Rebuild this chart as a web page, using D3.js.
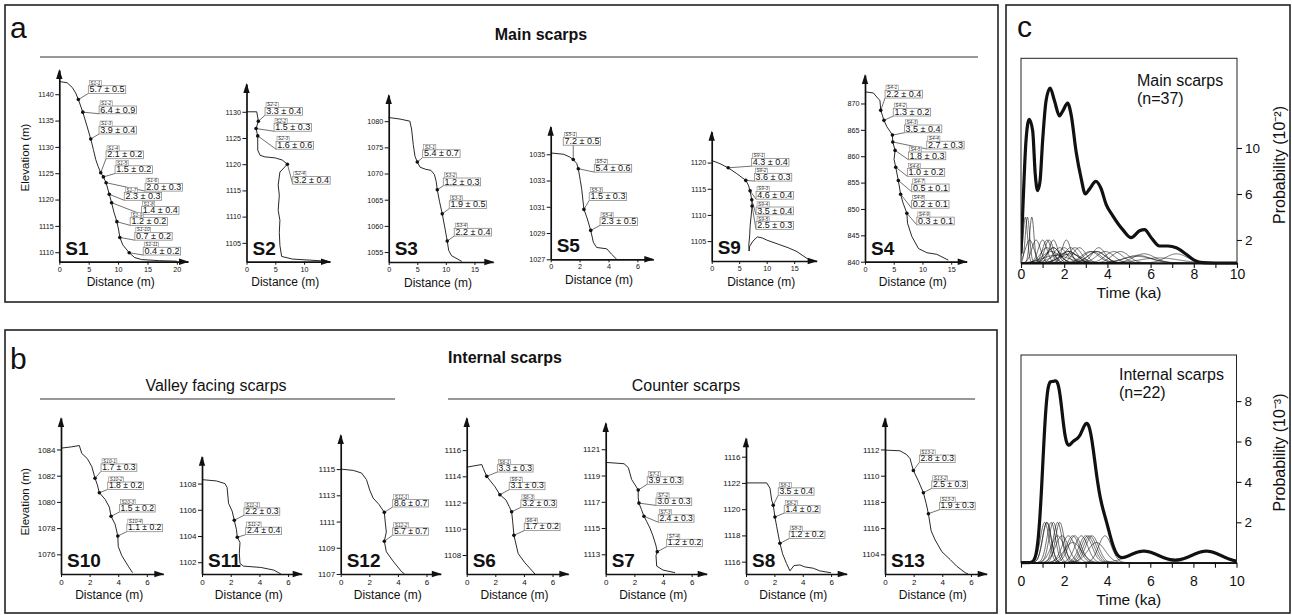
<!DOCTYPE html>
<html><head><meta charset="utf-8">
<script src="https://cdn.jsdelivr.net/npm/d3@7"></script>
<style>
body{margin:0;background:#fff;}
svg{display:block;font-family:Arial,"Liberation Sans",Helvetica,sans-serif;}
</style></head><body>
<svg id="fig" width="1292" height="615"></svg>
<script>
// ---------- profile data: [distance (m), elevation (m)] ----------
const s1Profile = [[0,1142.4],[1.3,1142.2],[2.2,1141.3],[2.8,1140.2],[3.24,1139.0],[4.0,1136.6],[4.7,1134.0],[5.35,1131.5],[5.8,1129.5],[6.2,1127.6],[6.6,1126.3],[7.05,1125.1],[7.5,1124.3],[7.96,1123.2],[8.5,1121.0],[8.9,1119.4],[9.3,1117.6],[9.8,1115.8],[10.1,1114.2],[10.3,1112.8],[10.8,1111.4],[11.9,1109.9],[12.8,1109.0],[14,1108.6],[17,1108.4],[20,1108.3]];
const s2Profile = [[0,1130],[1.78,1130],[2.06,1128.2],[1.66,1126.8],[1.95,1125.4],[1.95,1122.7],[2.35,1121.7],[3.2,1121.4],[5.0,1121.2],[6.2,1120.8],[7.1,1120.0],[6.5,1119.3],[5.8,1118.5],[5.5,1116.0],[5.7,1114.1],[5.5,1111.2],[5.8,1109.3],[5.7,1107.0],[5.8,1104.5],[6.1,1102.4],[8,1101.9],[11,1101.7],[14,1101.5]];
const s3Profile = [[0,1080.7],[2,1080.4],[3.7,1080.0],[4.0,1078.5],[4.3,1075.5],[4.6,1073.3],[5.0,1072.2],[5.5,1071.2],[6.5,1070.8],[7.4,1070.6],[8.0,1069.8],[8.3,1068.5],[8.5,1066.9],[8.9,1064.6],[9.37,1062.3],[9.8,1059.8],[10.24,1057.1],[10.5,1055.3],[11.0,1054.3],[12.0,1053.7],[12.8,1053.2]];
const s5Profile = [[0,1035.1],[0.9,1035.0],[1.3,1034.8],[1.56,1034.6],[1.8,1034.3],[1.91,1033.9],[2.05,1033.0],[2.15,1032.3],[2.3,1030.8],[2.5,1030.2],[2.77,1029.2],[2.95,1028.3],[3.18,1027.9],[3.88,1027.8],[4.2,1027.4],[4.57,1027.0]];
const s9Profile = [[0,1120.4],[1.5,1119.8],[3.0,1119.0],[4.55,1117.9],[6.2,1116.6],[6.67,1115.7],[6.98,1114.6],[7.29,1112.9],[7.34,1111.7],[7.2,1110.0],[7.0,1108.0],[6.9,1106.0],[6.75,1104.3],[6.8,1103.1],[6.9,1104.0],[7.5,1105.0],[8.3,1105.8],[9.2,1105.6],[10,1105.2],[12.4,1104.3],[14,1103.7],[15.5,1103.0],[17.6,1101.5]];
const s4Profile = [[0,872.2],[1.45,872.0],[2.3,870.9],[2.6,870.6],[2.74,868.7],[3.3,866.8],[3.8,865.6],[4.3,864.8],[4.77,864.0],[4.83,862.7],[5.24,861.1],[5.06,859.4],[5.35,857.9],[5.8,855.4],[6.2,852.8],[6.6,851.2],[7.28,849.2],[7.4,847.3],[8.15,844.8],[9.3,842.5],[10.77,841.7],[12.5,841.4],[13.4,840.9],[14.5,840.3]];
const s10Profile = [[0,1084.1],[0.75,1084.2],[1.28,1084.3],[1.45,1083.7],[1.84,1083.3],[2.15,1082.7],[2.38,1081.8],[2.54,1081.3],[2.68,1080.7],[3.08,1080.2],[3.38,1079.6],[3.5,1078.9],[3.78,1078.3],[3.97,1077.4],[4.0,1076.6],[4.25,1075.9],[4.7,1075.1],[5.0,1074.6]];
const s11Profile = [[0,1108.3],[1.0,1108.2],[1.6,1108.0],[1.75,1107.7],[1.85,1106.5],[2.1,1105.9],[2.25,1105.2],[2.4,1104.5],[2.46,1103.9],[2.65,1103.5],[2.6,1102.7],[2.65,1101.9],[2.9,1101.7],[4.1,1101.6],[5.0,1101.4],[5.5,1101.1]];
const s12Profile = [[0,1115],[0.88,1114.9],[1.46,1114.7],[1.8,1114.2],[2.03,1113.4],[2.26,1112.8],[2.68,1112.3],[3.05,1111.7],[3.12,1110.9],[3.19,1110.2],[3.05,1109.5],[3.19,1108.7],[3.65,1108.0],[4.24,1107.2],[4.47,1107.0]];
const s6Profile = [[0,1114.7],[1.05,1114.9],[1.16,1114.6],[1.4,1114.0],[1.98,1113.2],[2.32,1112.6],[2.74,1112.2],[2.97,1111.7],[3.14,1111.3],[3.21,1110.6],[3.3,1109.5],[3.49,1108.6],[3.6,1108.1],[4.07,1107.4],[4.65,1106.7],[4.77,1106.55]];
const s7Profile = [[0,1120.0],[1.28,1119.9],[1.58,1119.6],[1.81,1118.7],[2.1,1118.2],[2.27,1117.9],[2.27,1117.3],[2.32,1116.9],[2.5,1116.4],[2.67,1115.9],[2.86,1115.5],[3.09,1115.0],[3.3,1114.4],[3.5,1113.7],[3.6,1113.2],[3.51,1112.9],[3.56,1112.1],[4.0,1111.8],[4.84,1111.6]];
const s8Profile = [[0,1122],[1.46,1122],[1.69,1121.6],[1.81,1120.7],[1.92,1120.3],[1.99,1119.8],[2.04,1119.4],[2.16,1118.7],[2.39,1117.4],[2.58,1116.6],[2.86,1115.85],[3.1,1115.3],[3.38,1115.7],[3.8,1115.75],[4.15,1115.6],[4.74,1115.5],[5.2,1115.3],[6.0,1115.15]];
const s13Profile = [[0,1111.95],[1.05,1111.9],[1.52,1111.6],[1.75,1111.3],[1.85,1110.9],[1.98,1110.4],[2.33,1109.6],[2.68,1108.7],[2.87,1107.9],[3.03,1107.1],[3.22,1105.8],[3.5,1105.1],[3.97,1104.2],[4.55,1103.6],[5.0,1103.1],[5.6,1102.6],[5.8,1102.5]];

// ---------- sampled points: [distance (m), elevation (m), age (ka), 1-sigma error (ka)] ----------
const s1Samples = [[3.24,1139.0,5.7,0.5],[4.0,1136.6,6.4,0.9],[5.35,1131.5,3.9,0.4],[7.05,1125.1,2.1,0.2],[7.5,1124.3,1.5,0.2],[7.96,1123.2,2.0,0.3],[8.5,1121.0,2.3,0.3],[8.9,1119.4,1.4,0.4],[9.8,1115.8,1.2,0.2],[10.3,1112.8,0.7,0.2],[11.9,1109.9,0.4,0.2]];
const s2Samples = [[2.06,1128.2,3.3,0.4],[1.66,1126.8,1.5,0.3],[1.95,1125.4,1.6,0.6],[7.1,1120.0,3.2,0.4]];
const s3Samples = [[5.0,1072.2,5.4,0.7],[8.5,1066.9,1.2,0.3],[9.37,1062.3,1.9,0.5],[10.24,1057.1,2.2,0.4]];
const s5Samples = [[1.56,1034.6,7.2,0.5],[1.91,1033.9,5.4,0.6],[2.3,1030.8,1.5,0.3],[2.77,1029.2,2.3,0.5]];
const s9Samples = [[3.0,1119.0,4.3,0.4],[6.2,1116.6,3.6,0.3],[6.98,1114.6,4.6,0.4],[7.29,1112.9,3.5,0.4],[7.34,1111.7,2.5,0.3]];
const s4Samples = [[2.74,868.7,2.2,0.4],[3.3,866.8,1.3,0.2],[4.77,864.0,3.5,0.4],[4.83,862.7,2.7,0.3],[5.24,861.1,1.8,0.3],[5.35,857.9,1.0,0.2],[5.8,855.4,0.5,0.1],[6.2,852.8,0.2,0.1],[7.28,849.2,0.3,0.1]];
const s10Samples = [[2.38,1081.8,1.7,0.3],[2.68,1080.7,1.8,0.2],[3.5,1078.9,1.5,0.2],[3.97,1077.4,1.1,0.2]];
const s11Samples = [[2.25,1105.2,2.2,0.3],[2.46,1103.9,2.4,0.4]];
const s12Samples = [[3.05,1111.7,8.6,0.7],[3.05,1109.5,5.7,0.7]];
const s6Samples = [[1.4,1114.0,3.3,0.3],[2.32,1112.6,3.1,0.3],[3.14,1111.3,3.2,0.3],[3.3,1109.5,1.7,0.2]];
const s7Samples = [[2.27,1117.9,3.9,0.3],[2.32,1116.9,3.0,0.3],[2.67,1115.9,2.4,0.3],[3.6,1113.2,1.2,0.2]];
const s8Samples = [[1.92,1120.3,3.5,0.4],[2.04,1119.4,1.4,0.2],[2.39,1117.4,1.2,0.2]];
const s13Samples = [[1.98,1110.4,2.8,0.3],[2.68,1108.7,2.5,0.3],[3.03,1107.1,1.9,0.3]];

// ---------- axis ticks ----------
const s1XTicks = [0,5,10,15,20], s1YTicks = [1110,1115,1120,1125,1130,1135,1140];
const s2XTicks = [0,5,10], s2YTicks = [1105,1110,1115,1120,1125,1130];
const s3XTicks = [0,5,10,15], s3YTicks = [1055,1060,1065,1070,1075,1080];
const s5XTicks = [0,2,4,6], s5YTicks = [1027,1029,1031,1033,1035];
const s9XTicks = [0,5,10,15], s9YTicks = [1105,1110,1115,1120];
const s4XTicks = [0,5,10,15], s4YTicks = [840,845,850,855,860,865,870];
const smallXTicks = [0,2,4,6];
const s10YTicks = [1076,1078,1080,1082,1084];
const s11YTicks = [1102,1104,1106,1108];
const s12YTicks = [1107,1109,1111,1113,1115];
const s6YTicks = [1108,1110,1112,1114,1116];
const s7YTicks = [1113,1115,1117,1119,1121];
const s8YTicks = [1116,1118,1120,1122,1124];
const s8YTickLabels = ["1116","1118","1120","1122","1116"];
const s13YTicks = [1104,1106,1108,1110,1112];
const s13YTickLabels = ["1104","1116","1118","1110","1112"];

// ---------- summed probability, main scarps (ka, 10^-2) ----------
const mainSumTime = [0,0.1,0.23,0.38,0.54,0.66,0.77,0.88,1.0,1.16,1.35,1.55,1.78,1.93,2.16,2.32,2.55,2.78,2.98,3.16,3.47,3.7,3.94,4.25,4.71,5.1,5.49,5.72,6.03,6.41,6.8,7.19,7.65,8.04,8.42,9.0,10];
const mainSumProb = [0.8,5.4,10.6,12.5,11.5,7.7,6.3,7.1,10.6,14.1,15.2,14.1,12.8,13.2,13.9,12.9,9.7,7.4,6.0,6.4,7.1,6.5,5.1,4.1,2.9,2.2,2.8,2.9,2.2,1.48,1.48,1.33,0.76,0.23,0.03,0,0];
const probXTicks = [0,1,2,3,4,5,6,7,8,9,10];
const mainProbTicks = [2,6,10];
const internalProbTicks = [2,4,6,8];

// ---------- layout ----------
const LAYOUT = {
  S1:  {ox:59.3, oy:261.7, tipX:188,   tipY:70,    xEnd:21.9, yBase:1108.2, yTop:1144.6},
  S2:  {ox:246.5,oy:261.7, tipX:330,   tipY:84,    xEnd:14.5, yBase:1101.4, yTop:1135.3},
  S3:  {ox:388.7,oy:262,   tipX:493.3, tipY:95,    xEnd:18.3, yBase:1053.1, yTop:1085.0},
  S5:  {ox:550.7,oy:259.3, tipX:653.3, tipY:126.7, xEnd:7.1,  yBase:1027,   yTop:1037.1},
  S9:  {ox:711.7,oy:261,   tipX:816.7, tipY:131.7, xEnd:19.1, yBase:1101.2, yTop:1125.9},
  S4:  {ox:865,  oy:261.7, tipX:966.7, tipY:75,    xEnd:17.7, yBase:840,    yTop:875.4},
  S10: {ox:61,   oy:574,   tipX:163.3, tipY:418,   xEnd:7.15, yBase:1074.5, yTop:1086.4},
  S11: {ox:202,  oy:574,   tipX:301.7, tipY:456.7, xEnd:6.95, yBase:1101.1, yTop:1110.05},
  S12: {ox:340.7,oy:574,   tipX:440.8, tipY:435,   xEnd:7.0,  yBase:1107,   yTop:1117.6},
  S6:  {ox:466.7,oy:574,   tipX:568.3, tipY:418,   xEnd:7.1,  yBase:1106.55,yTop:1118.45},
  S7:  {ox:605.7,oy:574,   tipX:706.7, tipY:423,   xEnd:7.05, yBase:1111.5, yTop:1123.0},
  S8:  {ox:746,  oy:574,   tipX:846.7, tipY:438.3, xEnd:7.1,  yBase:1115.06,yTop:1125.4},
  S13: {ox:885,  oy:574,   tipX:986.7, tipY:418,   xEnd:7.1,  yBase:1102.5, yTop:1114.4}
};
// label box anchor (lower-left corner of the age box) relative to its sample, px
const LABEL_OFFSETS = {
  S1: [[10,-6],[16.3,1.6],[8.3,-5],[5.3,-14],[11.7,-3.4],[39,8.4],[15,6],[30,11.6],[13.3,3.7],[15,2.7],[14,2.3]],
  S2: [[6.7,-6],[18,2.7],[18.3,13.3],[5.4,20]],
  S3: [[5.4,-4.5],[6,-4],[7,-5.3],[7,-5]],
  S5: [[-10,-14.3],[16,3.4],[5.3,-9],[9.3,-5]],
  S9: [[23.4,-1.7],[8.6,0.7],[6,8.3],[4.3,15],[4,23.3]],
  S4: [[4.3,-12.3],[9.3,-4.3],[12,-2.4],[34,7],[13.3,9.3],[11.6,9],[13.4,11.3],[11,14],[10,11.7]],
  S10: [[6,-7],[8.4,-3.3],[8.3,-4.3],[9,-4.3]],
  S11: [[9.7,-5],[8.4,-2.7]],
  S12: [[8.4,-5.4],[8.4,-6]],
  S6: [[10.6,-4.3],[9.3,-5],[9.3,-4.4],[10.3,-4.7]],
  S7: [[9,-5.7],[17,2.3],[14.3,6],[9.4,-5]],
  S8: [[5,-10],[9.3,-4],[9.3,-4.7]],
  S13: [[6,-8],[8.4,-4.4],[11,-4]]
};

const svg = d3.select('#fig');
const INK = '#111';

// ---------- frames and headings ----------
function frame(x, y, w, h) {
  svg.append('rect').attr('x', x).attr('y', y).attr('width', w).attr('height', h)
    .attr('fill', 'none').attr('stroke', '#222').attr('stroke-width', 1.6);
}
frame(5, 5, 993, 297);
frame(5, 330, 992, 283);
frame(1006, 5, 284, 608);

function txt(x, y, s, size, opts = {}) {
  return svg.append('text').attr('x', x).attr('y', y).text(s)
    .attr('font-size', size).attr('fill', INK)
    .attr('font-weight', opts.bold ? 'bold' : null)
    .attr('text-anchor', opts.anchor || 'start');
}
function rule(x1, x2, y) {
  svg.append('line').attr('x1', x1).attr('x2', x2).attr('y1', y).attr('y2', y)
    .attr('stroke', '#333').attr('stroke-width', 1.2);
}
txt(10, 38, 'a', 30);
txt(541, 40, 'Main scarps', 16, {bold: true, anchor: 'middle'});
rule(40, 978, 57);
txt(10, 369, 'b', 30);
txt(505, 363, 'Internal scarps', 16, {bold: true, anchor: 'middle'});
txt(216, 391, 'Valley facing scarps', 16, {anchor: 'middle'});
txt(686, 391, 'Counter scarps', 16, {anchor: 'middle'});
rule(40, 395, 399);
rule(448, 975, 399);
txt(1017, 37, 'c', 30);

// ---------- scarp profiles ----------
function drawScarp(name, profile, samples, xTicks, yTicks, yLabels, small) {
  const L = LAYOUT[name];
  const x = d3.scaleLinear().domain([0, L.xEnd]).range([L.ox, L.tipX]);
  const y = d3.scaleLinear().domain([L.yBase, L.yTop]).range([L.oy, L.tipY]);
  const g = svg.append('g');
  const tickFs = small ? 8 : 7.2;

  g.append('path').datum(profile)
    .attr('d', d3.line().x(d => x(d[0])).y(d => y(d[1])))
    .attr('fill', 'none').attr('stroke', INK).attr('stroke-width', 0.9);

  const gx = g.append('g').attr('transform', `translate(0,${L.oy})`)
    .call(d3.axisBottom(x).tickValues(xTicks).tickSize(3).tickSizeOuter(0).tickPadding(2).tickFormat(d3.format('d')));
  const gy = g.append('g').attr('transform', `translate(${L.ox},0)`)
    .call(d3.axisLeft(y).tickValues(yTicks).tickSize(4).tickSizeOuter(0).tickPadding(1.5)
      .tickFormat((d, i) => yLabels ? yLabels[i] : d3.format('d')(d)));
  [gx, gy].forEach(a => {
    a.select('.domain').attr('stroke', INK).attr('stroke-width', 1.7);
    a.selectAll('.tick line').attr('stroke', INK).attr('stroke-width', 1);
    a.selectAll('.tick text').attr('font-size', tickFs).attr('fill', INK).attr('font-family', 'Arial, "Liberation Sans", sans-serif');
  });
  // arrowheads
  g.append('path').attr('d', `M${L.tipX + 1},${L.oy} L${L.tipX - 9},${L.oy - 3.2} L${L.tipX - 9},${L.oy + 3.2} Z`).attr('fill', INK);
  g.append('path').attr('d', `M${L.ox},${L.tipY - 1} L${L.ox - 3.2},${L.tipY + 9} L${L.ox + 3.2},${L.tipY + 9} Z`).attr('fill', INK);

  // scarp name and axis title
  g.append('text').attr('x', L.ox + 6).attr('y', L.oy - 7).text(name)
    .attr('font-size', 19).attr('font-weight', 'bold').attr('fill', INK);
  g.append('text').attr('x', (L.ox + L.tipX) / 2 - 3).attr('y', L.oy + 24.5).text('Distance (m)')
    .attr('font-size', 12).attr('text-anchor', 'middle').attr('fill', INK);

  // age labels: leader line, boxed age and a small tag with the sample id
  const offs = LABEL_OFFSETS[name];
  const fs = small ? 8.6 : 9;
  samples.forEach((s, i) => {
    const px = x(s[0]), py = y(s[1]);
    const bx = px + offs[i][0], by = py + offs[i][1];
    const lg = g.append('g');
    const leader = lg.append('line');
    const box = lg.append('rect');
    const tagBox = lg.append('rect');
    const t = lg.append('text').attr('x', bx + 1.2).attr('y', by - 1.2)
      .text(`${s[2].toFixed(1)} \u00b1 ${s[3].toFixed(1)}`)
      .attr('font-size', fs).attr('fill', INK);
    const w = t.node().getComputedTextLength() + 2.4;
    const h = fs * 0.86;
    box.attr('x', bx).attr('y', by - h).attr('width', w).attr('height', h)
      .attr('fill', '#fff').attr('stroke', '#8a8a8a').attr('stroke-width', 0.8);
    const tag = lg.append('text').attr('x', bx + 2).attr('y', by - h - 1)
      .text(`${name}-${i + 1}`).attr('font-size', 4.8).attr('font-style', 'italic').attr('fill', '#333');
    const tw = tag.node().getComputedTextLength() + 2;
    tagBox.attr('x', bx + 1).attr('y', by - h - 5.2).attr('width', tw).attr('height', 5.2)
      .attr('fill', '#fff').attr('stroke', '#8a8a8a').attr('stroke-width', 0.6);
    const lx = Math.max(bx, Math.min(px, bx + w));
    leader.attr('x1', px).attr('y1', py).attr('x2', lx).attr('y2', by)
      .attr('stroke', INK).attr('stroke-width', 0.6);
  });
  samples.forEach(s => {
    g.append('circle').attr('cx', x(s[0])).attr('cy', y(s[1])).attr('r', 1.8).attr('fill', INK);
  });
}

drawScarp('S1', s1Profile, s1Samples, s1XTicks, s1YTicks, null, false);
drawScarp('S2', s2Profile, s2Samples, s2XTicks, s2YTicks, null, false);
drawScarp('S3', s3Profile, s3Samples, s3XTicks, s3YTicks, null, false);
drawScarp('S5', s5Profile, s5Samples, s5XTicks, s5YTicks, null, false);
drawScarp('S9', s9Profile, s9Samples, s9XTicks, s9YTicks, null, false);
drawScarp('S4', s4Profile, s4Samples, s4XTicks, s4YTicks, null, false);
drawScarp('S10', s10Profile, s10Samples, smallXTicks, s10YTicks, null, true);
drawScarp('S11', s11Profile, s11Samples, smallXTicks, s11YTicks, null, true);
drawScarp('S12', s12Profile, s12Samples, smallXTicks, s12YTicks, null, true);
drawScarp('S6', s6Profile, s6Samples, smallXTicks, s6YTicks, null, true);
drawScarp('S7', s7Profile, s7Samples, smallXTicks, s7YTicks, null, true);
drawScarp('S8', s8Profile, s8Samples, smallXTicks, s8YTicks, s8YTickLabels, true);
drawScarp('S13', s13Profile, s13Samples, smallXTicks, s13YTicks, s13YTickLabels, true);

function elevTitle(cy) {
  svg.append('text').attr('transform', `translate(25,${cy}) rotate(-90)`).text('Elevation (m)')
    .attr('font-size', 11.5).attr('text-anchor', 'middle').attr('dy', '0.35em').attr('fill', INK);
}
elevTitle(157.5);
elevTitle(501.7);

// ---------- age probability plots ----------
const gauss = (t, m, s) => Math.exp(-0.5 * ((t - m) / s) ** 2) / (s * Math.sqrt(2 * Math.PI));

function drawProb(cfg) {
  const {left, right, top, y0, pxPerUnit, ages, sum, ticks, title, count, power, tickDy, titleY, textX, textY, axisTitleY} = cfg;
  const x = d3.scaleLinear().domain([0, 10]).range([left, right]);
  const yMax = (y0 - top) / pxPerUnit;
  const y = d3.scaleLinear().domain([0, yMax]).range([y0, top]);
  const g = svg.append('g');
  const clipId = 'clip' + Math.round(top);
  g.append('clipPath').attr('id', clipId).append('rect')
    .attr('x', left).attr('y', top).attr('width', right - left).attr('height', y0 - top + 2);
  const inner = g.append('g').attr('clip-path', `url(#${clipId})`);

  // individual sample densities
  ages.forEach(a => {
    const t0 = Math.max(0, a[0] - 4 * a[1]), t1 = Math.min(10, a[0] + 4 * a[1]);
    const pts = d3.range(t0, t1 + 1e-9, 0.02).map(t => [t, gauss(t, a[0], a[1])]);
    inner.append('path').datum(pts)
      .attr('d', d3.line().x(d => x(d[0])).y(d => y(d[1])))
      .attr('fill', 'none').attr('stroke', INK).attr('stroke-width', 0.6);
  });
  // summed curve
  inner.append('path').datum(sum)
    .attr('d', d3.line().curve(d3.curveMonotoneX).x(d => x(d[0])).y(d => y(d[1])))
    .attr('fill', 'none').attr('stroke', INK).attr('stroke-width', 3.2).attr('stroke-linejoin', 'round');

  g.append('rect').attr('x', left).attr('y', top).attr('width', right - left).attr('height', y0 - top)
    .attr('fill', 'none').attr('stroke', '#222').attr('stroke-width', 1);

  const gx = g.append('g').attr('transform', `translate(0,${y0})`)
    .call(d3.axisBottom(x).tickValues(probXTicks).tickSize(5).tickSizeOuter(0).tickPadding(tickDy)
      .tickFormat(d => d % 2 === 0 ? d : ''));
  gx.select('.domain').attr('stroke', INK).attr('stroke-width', 1.8);
  gx.selectAll('.tick line').attr('stroke', INK).attr('stroke-width', 1.1);
  gx.selectAll('.tick text').attr('font-size', 14).attr('fill', INK).attr('font-family', 'Arial, "Liberation Sans", sans-serif');

  const gy = g.append('g').attr('transform', `translate(${right},0)`)
    .call(d3.axisRight(y).tickValues(ticks).tickSize(5).tickSizeOuter(0).tickPadding(3));
  gy.select('.domain').remove();
  gy.selectAll('.tick line').attr('stroke', INK).attr('stroke-width', 1.1);
  gy.selectAll('.tick text').attr('font-size', 13.5).attr('fill', INK).attr('font-family', 'Arial, "Liberation Sans", sans-serif');

  g.append('text').attr('x', (left + right) / 2).attr('y', axisTitleY).text('Time (ka)')
    .attr('font-size', 15.5).attr('text-anchor', 'middle').attr('fill', INK);
  g.append('text').attr('transform', `translate(1279,${titleY}) rotate(-90)`)
    .text(`Probability (10${power})`)
    .attr('font-size', 16).attr('text-anchor', 'middle').attr('dy', '0.35em').attr('fill', INK);
  g.append('text').attr('x', textX).attr('y', textY).text(title).attr('font-size', 16).attr('fill', INK);
  g.append('text').attr('x', textX).attr('y', textY + 17.5).text(`(n=${count})`).attr('font-size', 16).attr('fill', INK);
}

const mainAges = [s1Samples, s2Samples, s3Samples, s5Samples, s9Samples, s4Samples].flat().map(s => [s[2], s[3]]);
const internalAges = [s10Samples, s11Samples, s12Samples, s6Samples, s7Samples, s8Samples, s13Samples].flat().map(s => [s[2], s[3]]);
const mainSum = mainSumTime.map((t, i) => [t, mainSumProb[i]]);
const internalSum = d3.range(0, 10.0001, 0.02).map(t => [t, d3.sum(internalAges, a => gauss(t, a[0], a[1]))]);

drawProb({left: 1021, right: 1237, top: 58.3, y0: 263, pxPerUnit: 11.5, ages: mainAges, sum: mainSum,
  ticks: mainProbTicks, title: 'Main scarps', count: mainAges.length, power: '\u207b\u00b2',
  tickDy: 1, titleY: 165, textX: 1137, textY: 86, axisTitleY: 298});
drawProb({left: 1021, right: 1236.5, top: 355, y0: 562.7, pxPerUnit: 20.2, ages: internalAges, sum: internalSum,
  ticks: internalProbTicks, title: 'Internal scarps', count: internalAges.length, power: '\u207b\u00b3',
  tickDy: 8, titleY: 452.5, textX: 1119, textY: 380, axisTitleY: 605});
</script>
</body></html>
